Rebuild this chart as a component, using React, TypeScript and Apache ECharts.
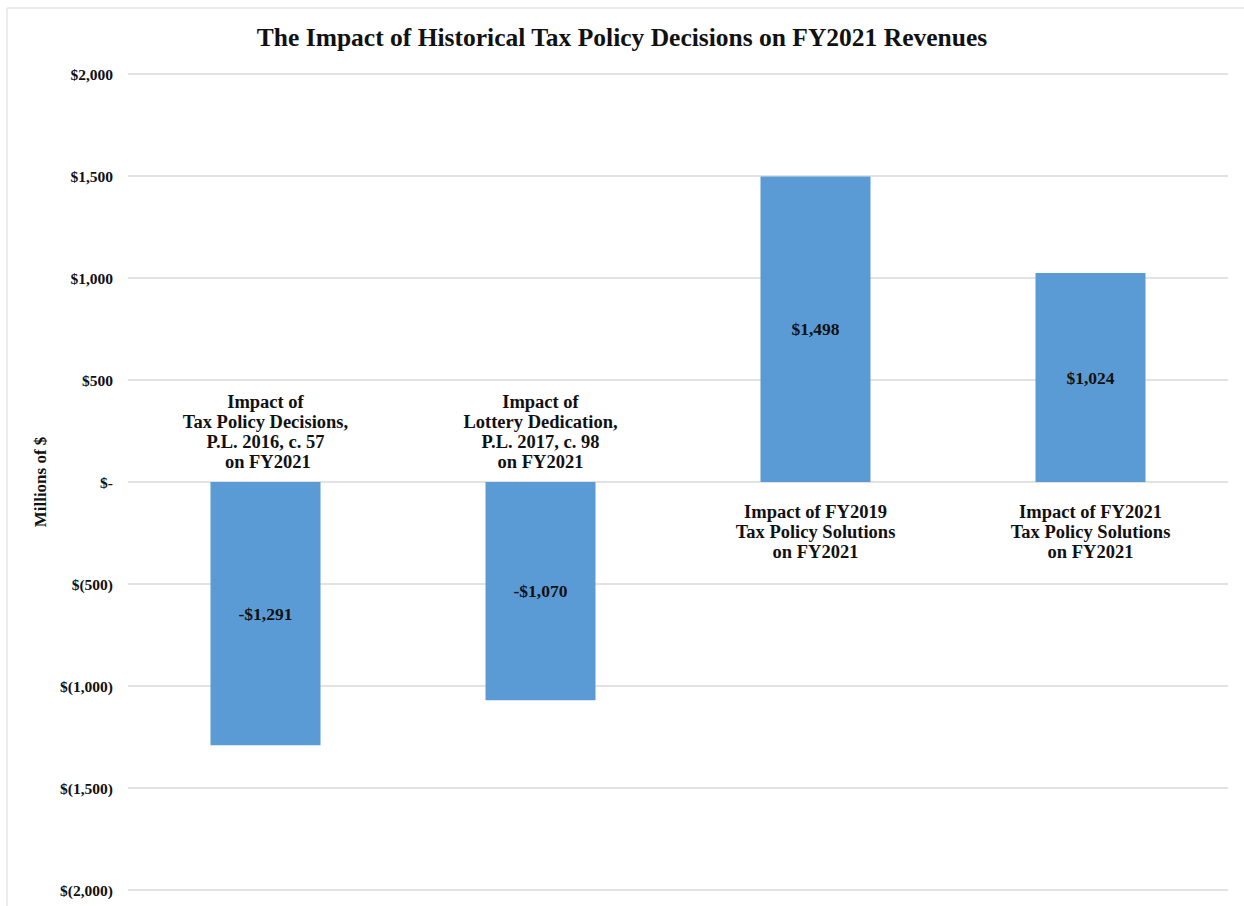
import React, { useEffect, useRef } from "react";
import * as echarts from "echarts";

const categories = [
  "Impact of\nTax Policy Decisions,\nP.L. 2016, c. 57\n on FY2021",
  "Impact of\nLottery Dedication,\nP.L. 2017, c. 98\non FY2021",
  "Impact of FY2019\nTax Policy Solutions\non FY2021",
  "Impact of FY2021\nTax Policy Solutions\non FY2021",
];
const values = [-1291, -1070, 1498, 1024];
const yTicks = { min: -2000, max: 2000, interval: 500 };
const titleText = "The Impact of Historical Tax Policy Decisions on FY2021 Revenues";
const yName = "Millions of $";

const FONT = "'Liberation Serif', 'DejaVu Serif', serif";
const INK = "#111111";

function fmtMoney(v: number): string {
  const abs = Math.abs(v).toLocaleString("en-US");
  if (v === 0) return "$-";
  return v < 0 ? `$(${abs})` : `$${abs}`;
}
function fmtBar(v: number): string {
  const abs = Math.abs(v).toLocaleString("en-US");
  return v < 0 ? `-$${abs}` : `$${abs}`;
}

export default function App() {
  const ref = useRef<HTMLDivElement>(null);
  useEffect(() => {
    if (!ref.current) return;
    const chart = echarts.init(ref.current, null, { renderer: "svg" });
    chart.setOption({
      animation: false,
      backgroundColor: "#ffffff",
      title: {
        text: titleText,
        left: "center",
        top: 19,
        textStyle: { fontFamily: FONT, fontSize: 25.5, fontWeight: "bold", color: INK },
      },
      graphic: [
        { type: "line", shape: { x1: 7, y1: 8, x2: 1244, y2: 8 }, style: { stroke: "#d9d9d9", lineWidth: 1 } },
        { type: "line", shape: { x1: 7, y1: 8, x2: 7, y2: 906 }, style: { stroke: "#d9d9d9", lineWidth: 1 } },
      ],
      grid: { left: 128, right: 16, top: 74, bottom: 16, containLabel: false },
      xAxis: {
        type: "category",
        data: categories,
        axisLine: { show: false },
        axisTick: { show: false },
        axisLabel: { show: false },
        splitLine: { show: false },
      },
      yAxis: {
        type: "value",
        min: yTicks.min,
        max: yTicks.max,
        interval: yTicks.interval,
        name: yName,
        nameLocation: "middle",
        nameGap: 79,
        nameRotate: 90,
        nameTextStyle: { fontFamily: FONT, fontSize: 17, fontWeight: "bold", color: INK },
        axisLine: { show: false },
        axisTick: { show: false },
        axisLabel: {
          formatter: (v: number) => fmtMoney(v),
          fontFamily: FONT,
          fontSize: 15.5,
          fontWeight: "bold",
          color: INK,
          margin: 15,
        },
        splitLine: { lineStyle: { color: "#d9d9d9", width: 1.5 } },
      },
      series: [
        {
          type: "bar",
          data: values,
          barWidth: "40%",
          itemStyle: { color: "#5b9bd5" },
          label: {
            show: true,
            position: "inside",
            formatter: (p: any) => fmtBar(p.value),
            fontFamily: FONT,
            fontSize: 17.5,
            fontWeight: "bold",
            color: INK,
          },
        },
        {
          type: "scatter",
          symbolSize: 0,
          silent: true,
          data: values.map((v, i) => ({
            value: 0,
            label: {
              show: true,
              position: v < 0 ? "top" : "bottom",
              distance: v < 0 ? 10 : 20,
              formatter: categories[i],
              fontFamily: FONT,
              fontSize: 18.5,
              fontWeight: "bold",
              lineHeight: 20,
              color: INK,
              opacity: 1,
              align: "center",
            },
          })),
        },
      ],
    });
    return () => chart.dispose();
  }, []);
  return (
    <div
      ref={ref}
      style={{ position: "absolute", left: 0, top: 0, width: 1244, height: 906 }}
    />
  );
}
